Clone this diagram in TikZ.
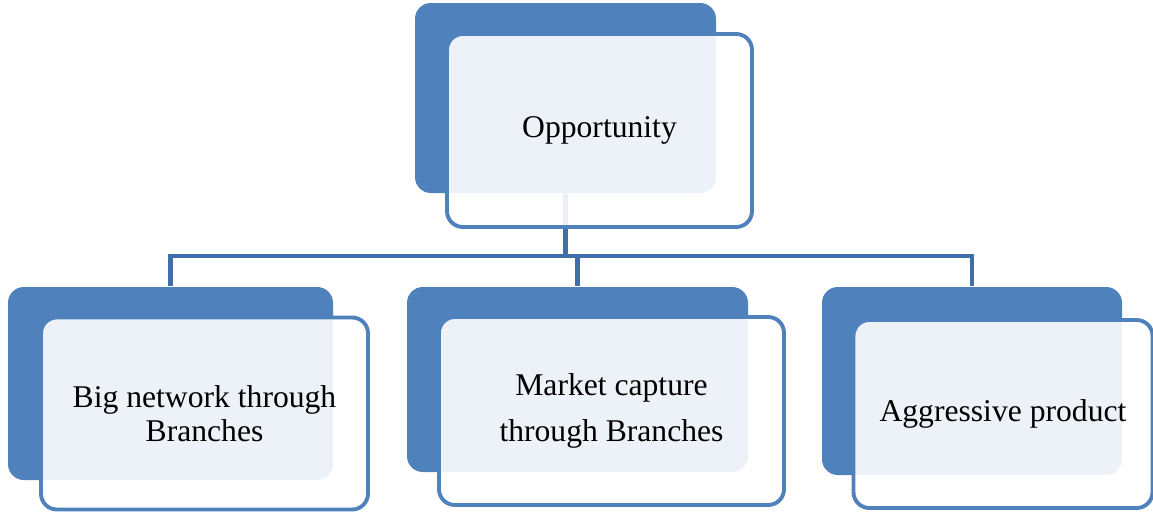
\documentclass[tikz,border=0pt]{standalone}
\usepackage{fontspec}
\setmainfont{Liberation Serif}
\usetikzlibrary{calc}
\definecolor{cblue}{HTML}{4F81BD}
\definecolor{cline}{HTML}{3F6EA8}
\tikzset{
  every picture/.style={line width=1.2pt},
  back/.style={fill=cblue, rounded corners=9pt, inner sep=0pt},
  front/.style={draw=cblue, line width=2.2pt, fill=white, fill opacity=0.9, text opacity=1,
    rounded corners=9pt, inner sep=0pt, align=center},
  link/.style={draw=cline, line width=2.3pt},
}

\begin{document}
\begin{tikzpicture}[every node/.append style={font=\fontsize{18}{19.3}\selectfont}]
  \useasboundingbox (0,0) rectangle (23.06,-10.30);
  % back plates
  \foreach \n/\x/\y/\w/\h in {opp/11.31/-1.96/6.02/3.80, big/3.41/-7.67/6.50/3.86,
      mkt/11.55/-7.59/6.82/3.70, agg/19.44/-7.62/6.00/3.76} {
    \node[back, minimum width=\w cm, minimum height=\h cm] (\n-back) at (\x,\y) {};
  }
  % connectors
  \coordinate (bus) at (11.31,-5.12);
  \draw[link] (opp-back.south) -- (bus);
  \foreach \n in {big, mkt, agg} {
    \draw[link] (bus) -| (\n-back.north);
  }
  % front cards
  \node[front, minimum width=6.10cm, minimum height=3.86cm] (opp) at (11.99,-2.61) {Opportunity};
  \node[front, minimum width=6.54cm, minimum height=3.84cm] (big) at (4.09,-8.27) {Big network through\\Branches};
  \node[front, minimum width=6.90cm, minimum height=3.76cm,
    font=\fontsize{18}{26}\selectfont] (mkt) at (12.23,-8.22) {Market capture\\through Branches};
  \node[front, minimum width=5.98cm, minimum height=3.76cm] (agg) at (20.06,-8.28) {Aggressive product};
\end{tikzpicture}
\end{document}
